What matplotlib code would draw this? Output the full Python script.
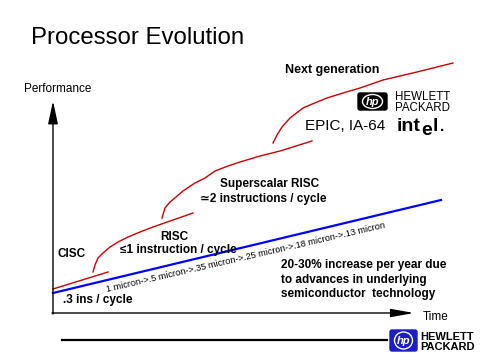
import matplotlib
matplotlib.use("Agg")
import matplotlib.pyplot as plt
from matplotlib.patches import FancyBboxPatch, Ellipse

plt.rcParams['font.family'] = ['Liberation Sans', 'DejaVu Sans']

# curves (pixel coords, y downwards)
cisc_x = [53, 108]
cisc_y = [289, 272]
risc_x = [93, 95, 98, 103, 110, 118, 128, 140, 153, 173, 193]
risc_y = [272, 265, 258, 253, 247, 242, 237, 232, 227, 220, 213]
super_x = [162, 165, 170, 176, 183, 195, 205, 215, 228, 240, 260, 280, 296, 312]
super_y = [218, 208, 202, 197, 191, 183, 178, 171, 166, 162, 156, 151, 146, 141]
next_x = [273, 277, 282, 290, 303, 317, 327, 343, 360, 383, 417, 453]
next_y = [143, 135, 127, 118, 108, 102, 98, 93, 88, 80, 72, 63]
tech_x = [53, 441]
tech_y = [293, 200]

micron_steps = ["1 micron", ".5 micron", ".35 micron", ".25 micron", ".18 micron", ".13 micron"]
trend_note = ["20-30% increase per year due",
              "to advances in underlying",
              "semiconductor  technology"]

red = '#cc0000'

fig = plt.figure(figsize=(4.8, 3.6), dpi=100)
ax = fig.add_axes([0, 0, 1, 1])
ax.set_xlim(0, 480)
ax.set_ylim(360, 0)
ax.axis('off')

ax.text(31, 44, "Processor Evolution", fontsize=17.3)

# axes of the sketch
ax.annotate('', xy=(53, 101), xytext=(53, 314),
            arrowprops=dict(arrowstyle='-|>,head_length=1.4,head_width=0.3',
                            lw=1, color='k', shrinkA=0, shrinkB=0))
ax.annotate('', xy=(414, 313), xytext=(52, 313),
            arrowprops=dict(arrowstyle='-|>,head_length=1.4,head_width=0.25',
                            lw=1, color='k', shrinkA=0, shrinkB=0))
ax.text(24, 92, "Performance", fontsize=8.5)
ax.text(423, 320, "Time", fontsize=8.5)

# technology trend
ax.plot(tech_x, tech_y, color='#0000ff', lw=1.6)
ax.text(107, 292, "->".join(micron_steps), fontsize=6.6, rotation=13,
        rotation_mode='anchor', ha='left', va='baseline')

# architecture curves
for xs, ys in [(cisc_x, cisc_y), (risc_x, risc_y), (super_x, super_y), (next_x, next_y)]:
    ax.plot(xs, ys, color=red, lw=1)

bold = dict(fontsize=8.5, fontweight='bold')
ax.text(57, 257, "CISC", **bold)
ax.text(63, 303, ".3 ins / cycle", **bold)
ax.text(160, 240, "RISC", **bold)
ax.text(120, 253, "≤1 instruction / cycle", **bold)
ax.text(220, 187, "Superscalar RISC", **bold)
ax.text(200, 202, "≃2 instructions / cycle", **bold)
ax.text(285, 73, "Next generation", fontsize=9, fontweight='bold')
ax.text(305, 130, "EPIC, IA-64", fontsize=11)
for i, line in enumerate(trend_note):
    ax.text(281, 268 + i * 14.5, line, **bold)

# HP logo (top)
ax.add_patch(FancyBboxPatch((358, 93), 29, 17, boxstyle='round,pad=0,rounding_size=2',
                            fc='k', ec='k'))
ax.add_patch(Ellipse((372.5, 101.5), 20, 14, fc='none', ec='white', lw=1))
ax.text(372.5, 102, "hp", color='white', fontsize=8, fontstyle='italic',
        fontweight='bold', ha='center', va='center')
ax.text(395, 100, "HEWLETT", fontsize=8.3)
ax.text(395, 111, "PACKARD", fontsize=8.3)
# intel logo
ax.text(397, 131, "int", fontsize=14, fontweight='bold')
ax.text(421, 135, "e", fontsize=14, fontweight='bold')
ax.text(433, 131, "l", fontsize=14, fontweight='bold')
ax.text(440, 131, ".", fontsize=11, fontweight='bold')

# footer
ax.plot([62, 387], [340, 340], color='k', lw=1.6)
ax.add_patch(FancyBboxPatch((390, 330), 27, 21, boxstyle='round,pad=0,rounding_size=2',
                            fc='#1c1cc8', ec='#1c1cc8'))
ax.add_patch(Ellipse((403.5, 340.5), 18, 17, fc='none', ec='white', lw=1))
ax.text(403.5, 341, "hp", color='white', fontsize=8, fontstyle='italic',
        fontweight='bold', ha='center', va='center')
ax.text(420, 340, "HEWLETT", fontsize=8, fontweight='bold')
ax.text(420, 350, "PACKARD", fontsize=8, fontweight='bold')

fig.savefig("out.png", dpi=100)
